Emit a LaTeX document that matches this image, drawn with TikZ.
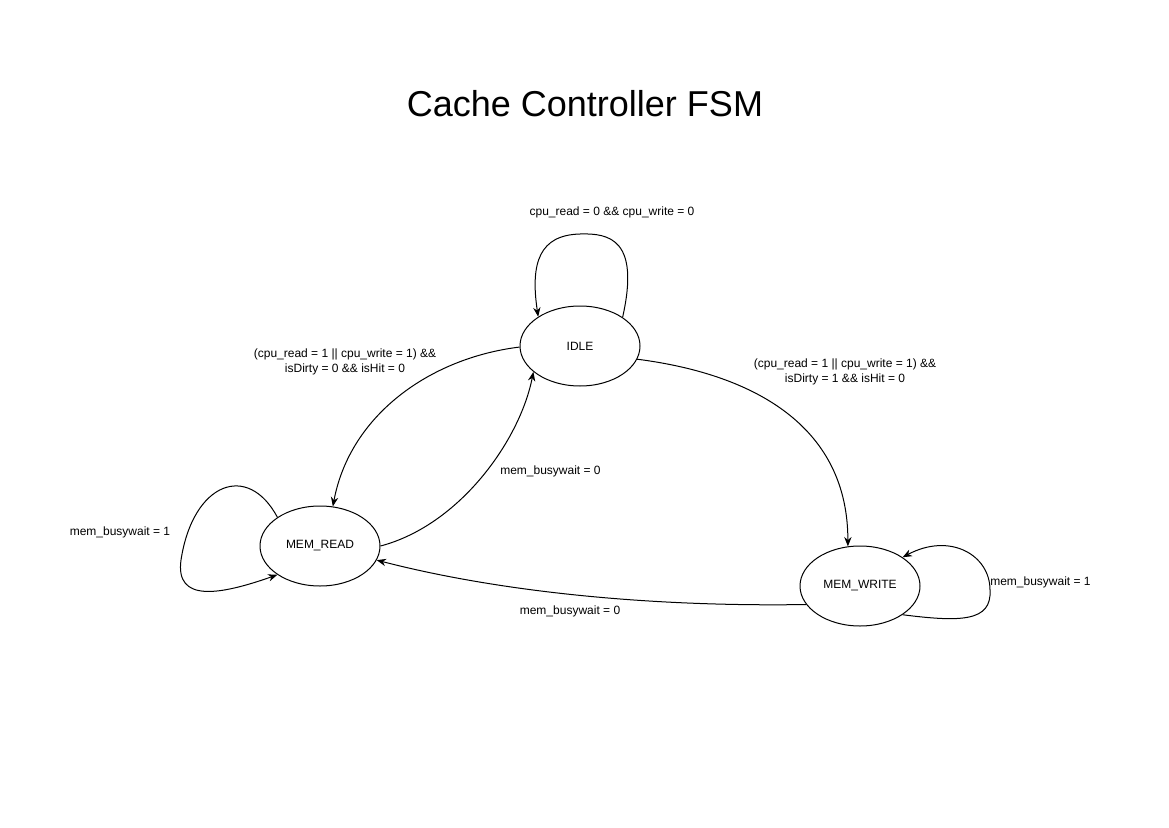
\documentclass[tikz,border=0pt]{standalone}
\usepackage{fontspec}
\setmainfont{Liberation Sans}
\usetikzlibrary{shapes.geometric,arrows.meta}
\begin{document}
\begin{tikzpicture}[x=0.75pt,y=-0.75pt,
  state/.style={draw,ellipse,minimum width=90pt,minimum height=60pt,inner sep=0pt,line width=0.75pt,font=\fontsize{9}{11}\selectfont},
  lbl/.style={font=\fontsize{9}{11.25}\selectfont,inner sep=0pt,align=center},
  edge/.style={line width=0.75pt,-{Stealth[length=7pt,width=5.5pt]}}]
\useasboundingbox (0,0) rectangle (1169,827);
\node[font=\fontsize{27}{32}\selectfont,inner sep=0pt] (title) at (585,104) {Cache Controller FSM};
\node[state] (idle) at (580,346) {IDLE};
\node[state] (mr) at (320,546) {MEM\_READ};
\node[state] (mw) at (860,586) {MEM\_WRITE};
% idle self-loop
\draw[edge] (idle.34) .. controls (640,240) and (610,233) .. (580,234) .. controls (540,235) and (530,262) .. (idle.145);
\node[lbl] (l1) at (612,212) {cpu\_read = 0 \&\& cpu\_write = 0};
% idle -> mem_read
\draw[edge] (idle.181) .. controls (430,358) and (350,415) .. (mr.72);
\node[lbl] (l2) at (345,362) {(cpu\_read = 1 || cpu\_write = 1) \&\&\\isDirty = 0 \&\& isHit = 0};
% mem_read -> idle
\draw[edge] (mr.0) .. controls (460,525) and (520,440) .. (idle.209);
\node[lbl,anchor=west] (l3) at (500,471) {mem\_busywait = 0};
% idle -> mem_write
\draw[edge] (idle.-13) .. controls (760,375) and (848,430) .. (mw.107);
\node[lbl] (l4) at (845,372) {(cpu\_read = 1 || cpu\_write = 1) \&\&\\isDirty = 1 \&\& isHit = 0};
% mem_write -> mem_read
\draw[edge] (mw.199) .. controls (650,607) and (500,592) .. (mr.-14);
\node[lbl] (l5) at (570,611) {mem\_busywait = 0};
% mem_read self-loop
\draw[edge] (mr.146) .. controls (248,462) and (193,482) .. (181,560) .. controls (175,603) and (220,595) .. (mr.214);
\node[lbl] (l6) at (120,532) {mem\_busywait = 1};
% mem_write self-loop
\draw[edge] (mw.-34) .. controls (960,622) and (992,622) .. (990,590) .. controls (990,555) and (950,532) .. (mw.34);
\node[lbl,anchor=west] (l7) at (990,582) {mem\_busywait = 1};
\end{tikzpicture}
\end{document}
